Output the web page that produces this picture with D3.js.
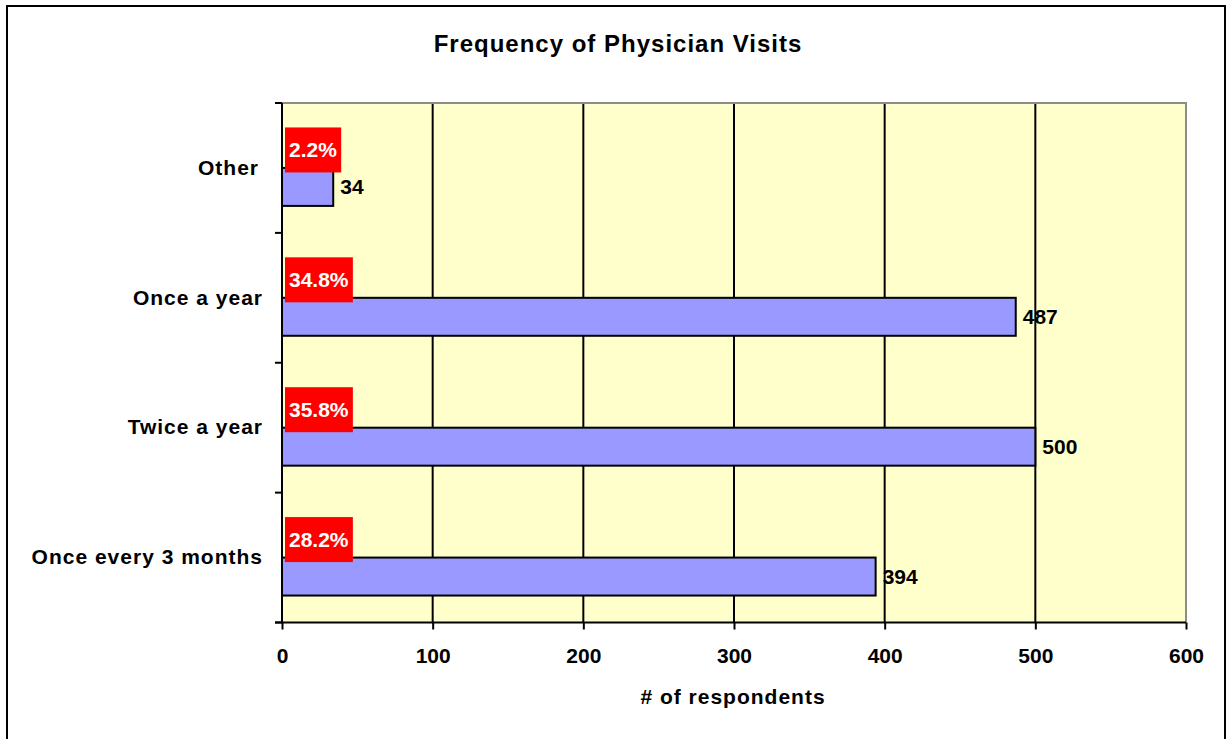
<!DOCTYPE html>
<html><head><meta charset="utf-8">
<script src="https://cdn.jsdelivr.net/npm/d3@7"></script>
<style>
html,body{margin:0;padding:0;background:#fff;}
svg{display:block;font-family:"Liberation Sans",Arial,sans-serif;font-weight:bold;}
</style></head>
<body>
<svg id="chart" width="1230" height="739"></svg>
<script>
const categories = ["Other", "Once a year", "Twice a year", "Once every 3 months"];
const counts = [34, 487, 500, 394];
const percentLabels = ["2.2%", "34.8%", "35.8%", "28.2%"];
const xTicks = [0, 100, 200, 300, 400, 500, 600];
const title = "Frequency of Physician Visits";
const xTitle = "# of respondents";

const FONT = '"Liberation Sans",Arial,sans-serif';
const svg = d3.select("#chart");
const m = {left: 282, right: 1186, top: 103, bottom: 622.5};

// outer border
svg.append("rect").attr("x", 7).attr("y", 6).attr("width", 1218).attr("height", 745)
  .attr("fill", "#fff").attr("stroke", "#000").attr("stroke-width", 2);

const x = d3.scaleLinear().domain([0, 600]).range([m.left, m.right]);
const y = d3.scaleBand().domain(categories).range([m.top, m.bottom]).padding(0);
const ySub = d3.scaleBand().domain(["pct", "count"]).range([0, y.bandwidth()]).paddingInner(0).paddingOuter(0.71);

// plot background
svg.append("rect").attr("x", m.left).attr("y", m.top).attr("width", m.right - m.left).attr("height", m.bottom - m.top)
  .attr("fill", "#FFFFCC");

// gridlines
svg.append("g").selectAll("line").data(xTicks.filter(d => d > 0 && d < 600)).join("line")
  .attr("x1", d => x(d)).attr("x2", d => x(d)).attr("y1", m.top).attr("y2", m.bottom)
  .attr("stroke", "#000").attr("stroke-width", 2);

// plot border top/right gray
svg.append("path").attr("d", `M${m.left},${m.top}H${m.right}V${m.bottom}`)
  .attr("fill", "none").attr("stroke", "#8c8c8c").attr("stroke-width", 2);

// bars
svg.append("g").selectAll("rect").data(categories).join("rect")
  .attr("x", x(0)).attr("y", (d) => y(d) + ySub("count"))
  .attr("width", (d, i) => x(counts[i]) - x(0)).attr("height", ySub.bandwidth())
  .attr("fill", "#9999FF").attr("stroke", "#000").attr("stroke-width", 2);

// axes
const xAxis = d3.axisBottom(x).tickValues(xTicks).tickSize(7).tickPadding(19).tickFormat(d3.format("d"));
const gx = svg.append("g").attr("transform", `translate(0,${m.bottom})`).call(xAxis);
gx.select(".domain").attr("stroke", "#000").attr("stroke-width", 2).attr("d", `M${m.left - 7},0H${m.right}`);
gx.selectAll(".tick line").attr("stroke", "#000").attr("stroke-width", 2);
gx.selectAll(".tick text").attr("font-size", 21).attr("font-weight", "bold").attr("fill", "#000")
  .attr("font-family", FONT);

const yAxis = d3.axisLeft(y).tickSize(0).tickPadding(19);
const gy = svg.append("g").attr("transform", `translate(${m.left},0)`).call(yAxis);
gy.select(".domain").attr("stroke", "#000").attr("stroke-width", 2).attr("d", `M0,${m.top}V${m.bottom}`);
gy.selectAll(".tick text").attr("font-size", 21).attr("font-weight", "bold").attr("fill", "#000")
  .attr("font-family", FONT).attr("letter-spacing", 1)
  .attr("dx", d => d === "Other" ? -4 : 0);
// band boundary ticks
const bounds = categories.map(c => y(c)).concat([m.bottom]);
svg.append("g").selectAll("line").data(bounds).join("line")
  .attr("x1", m.left - 7).attr("x2", m.left).attr("y1", d => d).attr("y2", d => d)
  .attr("stroke", "#000").attr("stroke-width", 2);

// value labels
svg.append("g").selectAll("text").data(categories).join("text")
  .attr("x", (d, i) => x(counts[i]) + 7)
  .attr("y", d => y(d) + ySub("count") + ySub.bandwidth() / 2)
  .attr("dy", "0.35em").attr("font-size", 21).attr("fill", "#000")
  .text((d, i) => counts[i]);

// percent labels (red boxes)
const pg = svg.append("g").selectAll("g").data(categories).join("g");
pg.each(function(d, i) {
  const g = d3.select(this);
  const cy = y(d) + ySub("pct") + ySub.bandwidth() / 2 + 1;
  const r = g.append("rect").attr("fill", "#FF0000");
  const t = g.append("text").attr("x", x(0) + 7).attr("y", cy).attr("dy", "0.35em")
    .attr("font-size", 21).attr("fill", "#fff").text(percentLabels[i]);
  const bb = t.node().getBBox();
  r.attr("x", x(0) + 3).attr("y", cy - 22.5).attr("width", bb.width + 8).attr("height", 45);
});

// title
svg.append("text").attr("x", 618).attr("y", 44).attr("dy", "0.35em").attr("text-anchor", "middle")
  .attr("font-size", 24).attr("letter-spacing", 1).attr("fill", "#000").text(title);

// x axis title
svg.append("text").attr("x", 733).attr("y", 697).attr("dy", "0.35em").attr("text-anchor", "middle")
  .attr("font-size", 21).attr("fill", "#000").attr("letter-spacing", 1).text(xTitle);
</script>
</body></html>
